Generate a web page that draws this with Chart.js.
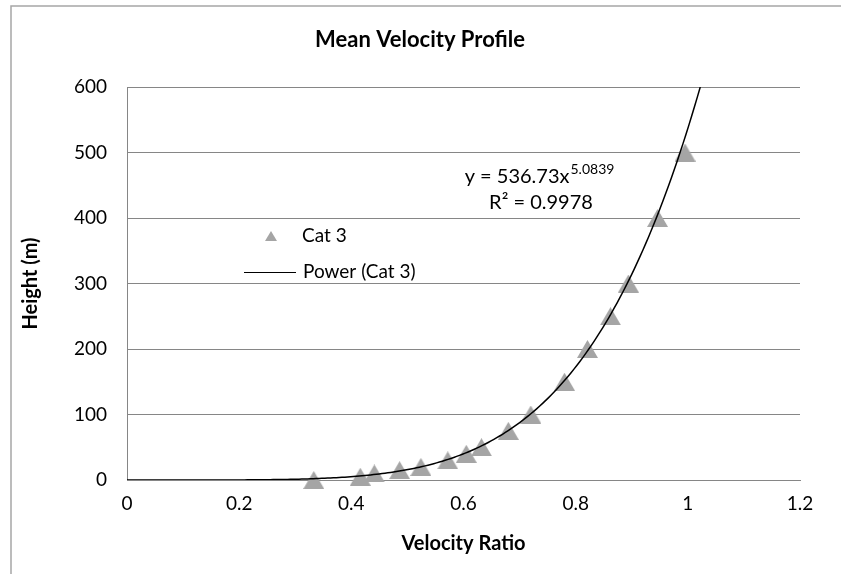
<!DOCTYPE html>
<html>
<head>
<meta charset="utf-8">
<title>Mean Velocity Profile</title>
<script src="https://cdn.jsdelivr.net/npm/chart.js@4.4.1/dist/chart.umd.min.js"></script>
<style>
    html, body { margin: 0; padding: 0; background: #fff; }
    #wrap { position: relative; width: 841px; height: 574px; }
</style>
</head>
<body>
<div id="wrap"><canvas id="profileChart" width="841" height="574"></canvas></div>
<script>
// Measured points (Cat 3)
const velocityRatio = [0.333, 0.416, 0.441, 0.486, 0.524, 0.572, 0.605, 0.632, 0.68, 0.72, 0.78, 0.821, 0.862, 0.894, 0.946, 0.995];
const heightM = [0, 5, 10, 15, 20, 30, 40, 50, 75, 100, 150, 200, 250, 300, 400, 500];

// Power trendline as printed on the chart
const powerCoef = 536.73;
const powerExp = 5.0839;
const rSquared = 0.9978;

const xTicks = [0, 0.2, 0.4, 0.6, 0.8, 1, 1.2];
const yTicks = [0, 100, 200, 300, 400, 500, 600];

const FONT = 'Lato, "Open Sans", sans-serif';
const MARKER_GREY = '#a5a5a5';

// trendline sampled along the printed equation, up to the top of the axis
const trendPoints = [];
const xEnd = Math.pow(600 / powerCoef, 1 / powerExp);
for (let i = 0; i <= 200; i++) {
    const x = xEnd * i / 200;
    trendPoints.push({ x: x, y: powerCoef * Math.pow(x, powerExp) });
}

const scatterPoints = velocityRatio.map((v, i) => ({ x: v, y: heightM[i] }));

// triangle marker as an image so its box is centred on the point (like Excel)
function makeTriangle(w, h) {
    const c = document.createElement('canvas');
    c.width = w;
    c.height = h;
    const g = c.getContext('2d');
    g.fillStyle = MARKER_GREY;
    g.beginPath();
    g.moveTo(w / 2, 0);
    g.lineTo(w, h);
    g.lineTo(0, h);
    g.closePath();
    g.fill();
    return c;
}
const triMarker = makeTriangle(21, 18);

// frame, title, legend and equation
const overlayPlugin = {
    id: 'overlay',
    beforeDraw(chart) {
        const ctx = chart.ctx;
        ctx.save();
        ctx.strokeStyle = '#a6a6a6';
        ctx.lineWidth = 1.5;
        ctx.beginPath();
        ctx.moveTo(11, 574);
        ctx.lineTo(11, 6);
        ctx.lineTo(841, 6);
        ctx.stroke();

        ctx.fillStyle = '#000';
        ctx.font = 'bold 22px ' + FONT;
        ctx.textAlign = 'center';
        ctx.textBaseline = 'middle';
        ctx.fillText('Mean Velocity Profile', 420, 40);
        ctx.restore();
    },
    afterDatasetsDraw(chart) {
        const ctx = chart.ctx;
        ctx.save();
        ctx.textBaseline = 'middle';
        ctx.textAlign = 'left';

        // legend
        ctx.fillStyle = MARKER_GREY;
        ctx.beginPath();
        ctx.moveTo(271, 231);
        ctx.lineTo(277, 241);
        ctx.lineTo(265, 241);
        ctx.closePath();
        ctx.fill();
        ctx.fillStyle = '#000';
        ctx.font = '19px ' + FONT;
        ctx.fillText('Cat 3', 302, 236);

        ctx.strokeStyle = '#000';
        ctx.lineWidth = 1;
        ctx.beginPath();
        ctx.moveTo(244, 272.5);
        ctx.lineTo(296, 272.5);
        ctx.stroke();
        ctx.fillText('Power (Cat 3)', 303, 272);

        // equation
        const base = 'y = ' + powerCoef + 'x';
        const sup = powerExp.toFixed(4);
        ctx.font = '20px ' + FONT;
        const wBase = ctx.measureText(base).width;
        ctx.font = '14px ' + FONT;
        const wSup = ctx.measureText(sup).width;
        const eqLeft = 539 - (wBase + wSup) / 2;
        ctx.font = '20px ' + FONT;
        ctx.fillText(base, eqLeft, 177);
        ctx.font = '14px ' + FONT;
        ctx.fillText(sup, eqLeft + wBase + 1, 169);

        ctx.font = '20px ' + FONT;
        ctx.textAlign = 'center';
        ctx.fillText('R\u00B2 = ' + rSquared, 541, 203);
        ctx.restore();
    }
};

const ctx = document.getElementById('profileChart').getContext('2d');
new Chart(ctx, {
    type: 'scatter',
    data: {
        datasets: [
            {
                label: 'Power (Cat 3)',
                data: trendPoints,
                showLine: true,
                borderColor: '#000',
                borderWidth: 1.5,
                pointRadius: 0,
                pointHoverRadius: 0,
                fill: false,
                order: 1
            },
            {
                label: 'Cat 3',
                data: scatterPoints,
                pointStyle: triMarker,
                pointRadius: 10,
                backgroundColor: MARKER_GREY,
                borderColor: MARKER_GREY,
                borderWidth: 0,
                clip: false,
                order: 2
            }
        ]
    },
    plugins: [overlayPlugin],
    options: {
        responsive: false,
        animation: false,
        layout: { padding: { top: 87, right: 41, bottom: 0, left: 0 } },
        plugins: {
            legend: { display: false },
            tooltip: { enabled: false },
            title: { display: false }
        },
        scales: {
            x: {
                type: 'linear',
                min: 0,
                max: 1.2,
                afterBuildTicks: s => { s.ticks = xTicks.map(v => ({ value: v })); },
                afterFit: s => { s.height = 94; },
                grid: { display: false, drawTicks: false },
                border: { color: '#868686', width: 1 },
                ticks: {
                    color: '#000',
                    padding: 12,
                    font: { family: FONT, size: 19 },
                    callback: v => String(v)
                },
                title: {
                    display: true,
                    text: 'Velocity Ratio',
                    color: '#000',
                    font: { family: FONT, size: 20, weight: 'bold' },
                    padding: { top: 18, bottom: 18 }
                }
            },
            y: {
                type: 'linear',
                min: 0,
                max: 600,
                afterBuildTicks: s => { s.ticks = yTicks.map(v => ({ value: v })); },
                afterFit: s => { s.width = 127; },
                grid: { color: '#868686', lineWidth: 1, drawTicks: false },
                border: { color: '#868686', width: 1 },
                ticks: {
                    color: '#000',
                    padding: 20,
                    font: { family: FONT, size: 19 }
                },
                title: {
                    display: true,
                    text: 'Height (m)',
                    color: '#000',
                    font: { family: FONT, size: 20, weight: 'bold' },
                    padding: { top: 19, bottom: 0 }
                }
            }
        }
    }
});
</script>
</body>
</html>
